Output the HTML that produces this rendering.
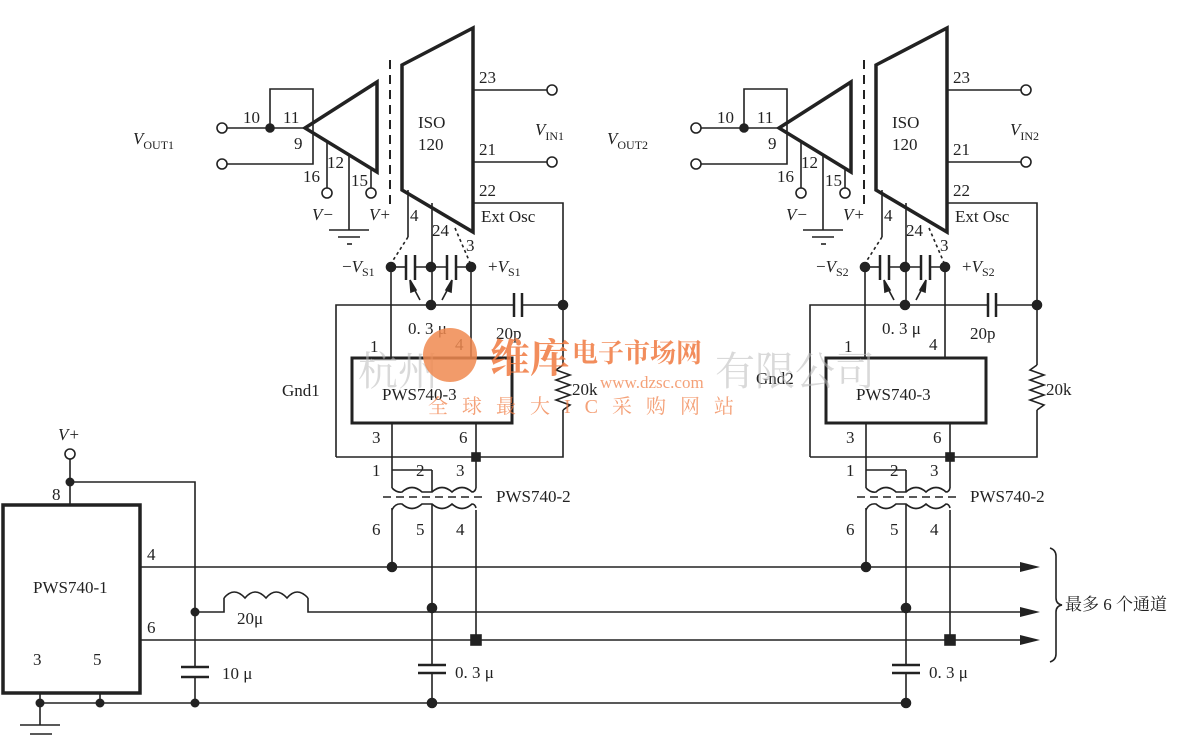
<!DOCTYPE html>
<html><head><meta charset="utf-8"><style>
html,body{margin:0;padding:0;background:#fff;}
svg{display:block;}
text{font-family:"Liberation Serif","Noto Serif CJK SC",serif;fill:#222;}
</style></head><body>
<svg width="1200" height="743" viewBox="0 0 1200 743" xmlns="http://www.w3.org/2000/svg">
<defs>
<g id="ch" stroke="#222" fill="none" stroke-width="1.6">
  <polygon points="402,65 473,28 473,232 402,190" stroke-width="3.5"/>
  <text x="418" y="128" font-size="17" stroke="none" fill="#222">ISO</text>
  <text x="418" y="150" font-size="17" stroke="none" fill="#222">120</text>
  <polygon points="305,128 377,82 377,172" stroke-width="3.5"/>
  <line x1="390" y1="60" x2="390" y2="205" stroke-dasharray="9,6" stroke-width="2"/>
  <circle cx="222" cy="128" r="5"/>
  <line x1="227" y1="128" x2="305" y2="128"/>
  <polyline points="270,128 270,89 313,89 313,164 227,164"/>
  <circle cx="222" cy="164" r="5"/>
  <circle cx="270" cy="128" r="4" fill="#222"/>
  <line x1="327" y1="142" x2="327" y2="188"/>
  <circle cx="327" cy="193" r="5"/>
  <line x1="349" y1="155" x2="349" y2="230"/>
  <line x1="329" y1="230" x2="369" y2="230"/>
  <line x1="338" y1="237" x2="360" y2="237"/>
  <line x1="347" y1="244" x2="352" y2="244"/>
  <line x1="371" y1="170" x2="371" y2="188"/>
  <circle cx="371" cy="193" r="5"/>
  <line x1="473" y1="90" x2="547" y2="90"/>
  <circle cx="552" cy="90" r="5"/>
  <line x1="473" y1="162" x2="547" y2="162"/>
  <circle cx="552" cy="162" r="5"/>
  <polyline points="473,203 563,203 563,365"/>
  <polyline points="563,410 563,457 476,457"/>
  <path d="M563,365 l-7,5 l14,5 l-14,5 l14,5 l-14,5 l14,5 l-14,5 l14,5 l-7,5"/>
  <polyline points="408,190 408,237"/>
  <line x1="408" y1="237" x2="392" y2="262" stroke-dasharray="3,3"/>
  <line x1="432" y1="203" x2="432" y2="305"/>
  <line x1="455" y1="228" x2="471" y2="265" stroke-dasharray="3,3"/>
  <line x1="391" y1="267" x2="406" y2="267"/>
  <line x1="406" y1="255" x2="406" y2="280" stroke-width="2.5"/>
  <line x1="415" y1="255" x2="415" y2="280" stroke-width="2.5"/>
  <line x1="415" y1="267" x2="447" y2="267"/>
  <line x1="447" y1="255" x2="447" y2="280" stroke-width="2.5"/>
  <line x1="456" y1="255" x2="456" y2="280" stroke-width="2.5"/>
  <line x1="456" y1="267" x2="476" y2="267"/>
  <line x1="420" y1="300" x2="412" y2="285"/><polygon points="410,280 416,290 411,292" fill="#222"/>
  <line x1="442" y1="300" x2="450" y2="285"/><polygon points="452,280 446,290 451,292" fill="#222"/>
  <circle cx="391" cy="267" r="4.5" fill="#222"/>
  <circle cx="431" cy="267" r="4.5" fill="#222"/>
  <circle cx="471" cy="267" r="4.5" fill="#222"/>
  <circle cx="431" cy="305" r="4.5" fill="#222"/>
  <circle cx="563" cy="305" r="4.5" fill="#222"/>
  <polyline points="336,457 336,305 514,305"/>
  <line x1="514" y1="293" x2="514" y2="317" stroke-width="2.5"/>
  <line x1="522" y1="293" x2="522" y2="317" stroke-width="2.5"/>
  <line x1="522" y1="305" x2="563" y2="305"/>
  <line x1="391" y1="267" x2="391" y2="358"/>
  <line x1="471" y1="267" x2="471" y2="358"/>
  <line x1="336" y1="457" x2="476" y2="457"/>
  <rect x="352" y="358" width="160" height="65" stroke-width="3"/>
  <text x="382" y="400" font-size="17" stroke="none" fill="#222">PWS740-3</text>
  <line x1="392" y1="423" x2="392" y2="488"/>
  <line x1="476" y1="423" x2="476" y2="488"/>
  <rect x="472" y="453" width="8" height="8" fill="#222"/>
  <path d="M392,488 q5,5 10,4 q10,-9 20,0 q5,0 10,0 q10,-9 20,0 q10,-9 20,0 q3,0 4,-4"/>
  <line x1="432" y1="470" x2="432" y2="492"/>
  <polyline points="392,470 432,470" />
  <line x1="383" y1="497" x2="486" y2="497" stroke-dasharray="8,5"/>
  <path d="M392,510 q3,-7 10,-6 q10,9 20,0 q5,0 10,0 q10,9 20,0 q10,9 20,0 q3,0 4,4"/>
  <line x1="392" y1="508" x2="392" y2="567"/>
  <line x1="432" y1="504" x2="432" y2="665"/>
  <line x1="476" y1="510" x2="476" y2="640"/>
  <circle cx="392" cy="567" r="4.5" fill="#222"/>
  <circle cx="432" cy="608" r="4.5" fill="#222"/>
  <rect x="471" y="635" width="10" height="10" fill="#222"/>
  <line x1="418" y1="665" x2="446" y2="665" stroke-width="2.5"/>
  <line x1="418" y1="673" x2="446" y2="673" stroke-width="2.5"/>
  <line x1="432" y1="673" x2="432" y2="703"/>
  <circle cx="432" cy="703" r="4.5" fill="#222"/>
  <g stroke="none" fill="#222" font-size="17">
    <text x="243" y="123">10</text><text x="283" y="123">11</text><text x="294" y="149">9</text>
    <text x="303" y="182">16</text><text x="327" y="168">12</text><text x="351" y="186">15</text>
    <text x="312" y="220" font-style="italic">V−</text><text x="369" y="220" font-style="italic">V+</text>
    <text x="479" y="83">23</text><text x="479" y="155">21</text><text x="479" y="196">22</text>
    <text x="481" y="222">Ext Osc</text>
    <text x="410" y="221">4</text><text x="432" y="236">24</text><text x="466" y="251">3</text>
    <text x="342" y="272">−<tspan font-style="italic">V</tspan><tspan font-size="12" dy="4">S1</tspan></text>
    <text x="488" y="272">+<tspan font-style="italic">V</tspan><tspan font-size="12" dy="4">S1</tspan></text>
    <text x="408" y="334">0. 3 μ</text><text x="496" y="339">20p</text>
    <text x="370" y="352">1</text><text x="455" y="350">4</text>
    <text x="572" y="395">20k</text>
    <text x="372" y="443">3</text><text x="459" y="443">6</text>
    <text x="372" y="476">1</text><text x="416" y="476">2</text><text x="456" y="476">3</text>
    <text x="496" y="502">PWS740-2</text>
    <text x="372" y="535">6</text><text x="416" y="535">5</text><text x="456" y="535">4</text>
    <text x="455" y="678">0. 3 μ</text>
  </g>
</g>
</defs>

<use href="#ch"/>
<use href="#ch" transform="translate(474,0)"/>

<g font-size="17">
  <text x="133" y="144" font-style="italic">V<tspan font-size="12" dy="5" font-style="normal">OUT1</tspan></text>
  <text x="607" y="144" font-style="italic">V<tspan font-size="12" dy="5" font-style="normal">OUT2</tspan></text>
  <text x="535" y="135" font-style="italic">V<tspan font-size="12" dy="5" font-style="normal">IN1</tspan></text>
  <text x="1010" y="135" font-style="italic">V<tspan font-size="12" dy="5" font-style="normal">IN2</tspan></text>
  <text x="282" y="396">Gnd1</text>
  <text x="756" y="384">Gnd2</text>
</g>
<rect x="815" y="260" width="40" height="20" fill="#fff"/>
<rect x="961" y="255" width="45" height="25" fill="#fff"/>
<text x="816" y="272" font-size="17">−<tspan font-style="italic">V</tspan><tspan font-size="12" dy="4">S2</tspan></text>
<text x="962" y="272" font-size="17">+<tspan font-style="italic">V</tspan><tspan font-size="12" dy="4">S2</tspan></text>

<g stroke="#222" fill="none" stroke-width="1.6">
  <rect x="3" y="505" width="137" height="188" stroke-width="3.5"/>
  <line x1="70" y1="505" x2="70" y2="459"/>
  <circle cx="70" cy="454" r="5"/>
  <polyline points="70,482 195,482 195,667"/>
  <line x1="181" y1="667" x2="209" y2="667" stroke-width="2.5"/>
  <line x1="181" y1="677" x2="209" y2="677" stroke-width="2.5"/>
  <line x1="195" y1="677" x2="195" y2="703"/>
  <line x1="140" y1="567" x2="1025" y2="567"/>
  <line x1="140" y1="640" x2="1025" y2="640"/>
  <polyline points="195,612 224,612 224,598"/>
  <path d="M224,598 q10,-12 21,0 q10,-12 21,0 q10,-12 21,0 q10,-12 21,0"/>
  <polyline points="308,598 308,612 1025,612"/>
  <line x1="40" y1="693" x2="40" y2="725"/>
  <line x1="100" y1="693" x2="100" y2="703"/>
  <line x1="40" y1="703" x2="906" y2="703"/>
  <line x1="20" y1="725" x2="60" y2="725"/>
  <line x1="30" y1="734" x2="52" y2="734"/>
  <path d="M1050,548 q6,2 6,8 l0,42 q0,6 6,7 q-6,1 -6,7 l0,42 q0,6 -6,8"/>
</g>
<g fill="#222">
  <circle cx="70" cy="482" r="4.5"/><circle cx="195" cy="612" r="4.5"/>
  <circle cx="40" cy="703" r="4.5"/><circle cx="100" cy="703" r="4.5"/><circle cx="195" cy="703" r="4.5"/>
  <polygon points="1020,562 1040,567 1020,572"/>
  <polygon points="1020,607 1040,612 1020,617"/>
  <polygon points="1020,635 1040,640 1020,645"/>
</g>
<g font-size="17">
  <text x="58" y="440" font-style="italic">V+</text>
  <text x="52" y="500">8</text>
  <text x="147" y="560">4</text><text x="147" y="633">6</text>
  <text x="33" y="593">PWS740-1</text>
  <text x="33" y="665">3</text><text x="93" y="665">5</text>
  <text x="237" y="624">20μ</text>
  <text x="222" y="679">10 μ</text>
  <text x="1065" y="610" font-family="Noto Serif CJK SC, serif">最多 6 个通道</text>
</g>

<g opacity="0.55">
  <text x="358" y="385" font-size="40" font-family="Noto Serif CJK SC, serif" style="fill:#bbb">杭州</text>
  <text x="715" y="385" font-size="40" font-family="Noto Serif CJK SC, serif" style="fill:#bbb">有限公司</text>
</g>
<circle cx="450" cy="355" r="27" fill="#f08a50" opacity="0.85"/>
<text x="490" y="372" font-size="40" font-weight="bold" font-family="Noto Sans CJK SC, sans-serif" style="fill:#f07a40" opacity="0.85">维库</text>
<text x="572" y="362" font-size="26" font-weight="bold" font-family="Noto Sans CJK SC, sans-serif" style="fill:#f07a40" opacity="0.85">电子市场网</text>
<text x="600" y="388" font-size="17" font-family="Liberation Sans, sans-serif" style="fill:#f07a40" opacity="0.7">www.dzsc.com</text>
<text x="428" y="413" font-size="20" letter-spacing="14" font-family="Noto Sans CJK SC, sans-serif" style="fill:#f07a40" opacity="0.7">全球最大IC采购网站</text>
</svg>
</body></html>
